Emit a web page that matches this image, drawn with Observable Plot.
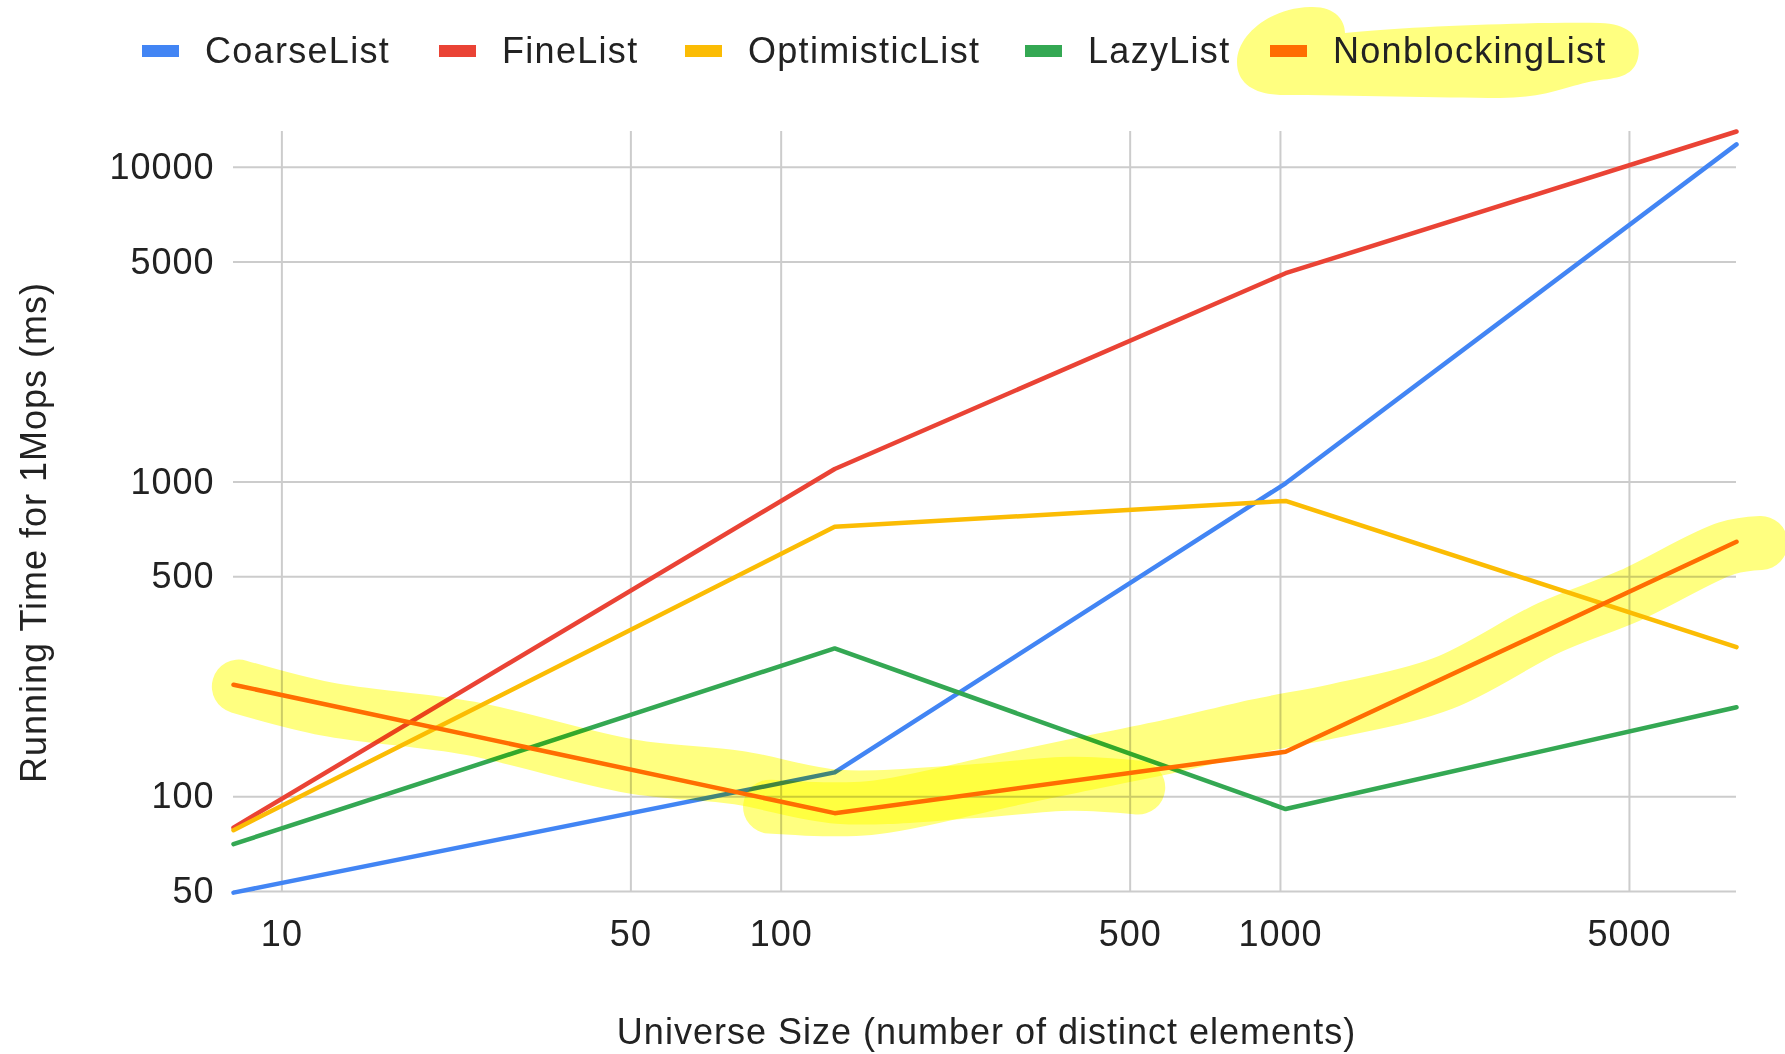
<!DOCTYPE html>
<html>
<head>
<meta charset="utf-8">
<script src="https://cdn.jsdelivr.net/npm/d3@7"></script>
<script src="https://cdn.jsdelivr.net/npm/@observablehq/plot@0.6"></script>
<style>
  body { margin: 0; background: #fff; font-family: "Liberation Sans", Arial, sans-serif; }
  #wrap { width: 1785px; position: relative; }
  #legend { position: relative; height: 100px; width: 1785px; }
  #legend svg.blob { position: absolute; left: 0; top: 0; }
  .item { position: absolute; top: 30px; height: 42px; display: flex; align-items: center;
          font-size: 36px; letter-spacing: 1.3px; color: #222; white-space: nowrap; }
  .sw { width: 37px; height: 12px; margin-right: 26px; }
</style>
</head>
<body>
<div id="wrap">
  <div id="legend"></div>
  <div id="chart"></div>
</div>
<script>
// ---- data ----
const seriesNames = ["CoarseList", "FineList", "OptimisticList", "LazyList", "NonblockingList"];
const seriesColors = ["#4285F4", "#EA4335", "#FBBC04", "#34A853", "#FF6D01"];
const universeSizes = [8, 128, 1024, 8192];
const coarseList = [49.6, 119.5, 991, 11830];
const fineList = [79.8, 1100, 4610, 13000];
const optimisticList = [78.3, 721, 871, 299];
const lazyList = [70.7, 296, 91.4, 192.5];
const nonblockingList = [227, 88.7, 139, 646];

const xTicks = [10, 50, 100, 500, 1000, 5000];
const yTicks = [50, 100, 500, 1000, 5000, 10000];
const xTitle = "Universe Size (number of distinct elements)";
const yTitle = "Running Time for 1Mops (ms)";

// hand-drawn highlighter strokes (approximate, in data units)
const highlight1X = [8.2, 12.3, 23.8, 50, 82, 130, 240, 380, 519];
const highlight1Y = [224, 190, 165, 125, 115, 100, 104, 110, 107];
const highlight2X = [95, 150, 275, 383, 605, 899, 1295, 2113, 3460, 5023, 7834, 9163];
const highlight2Y = [93, 92, 112, 125, 145, 168, 188, 229, 345, 437, 616, 640];

// ---- build tables ----
const seriesValues = [coarseList, fineList, optimisticList, lazyList, nonblockingList];
const rows = [];
seriesNames.forEach((name, i) => {
  universeSizes.forEach((s, j) => rows.push({series: name, size: s, time: seriesValues[i][j]}));
});
const hl1 = highlight1X.map((x, i) => ({x, y: highlight1Y[i]}));
const hl2 = highlight2X.map((x, i) => ({x, y: highlight2Y[i]}));

// ---- legend ----
const legend = document.getElementById("legend");
const ns = "http://www.w3.org/2000/svg";
const blob = document.createElementNS(ns, "svg");
blob.setAttribute("class", "blob");
blob.setAttribute("width", "1785");
blob.setAttribute("height", "100");
const blobPath = document.createElementNS(ns, "path");
blobPath.setAttribute("d", "M1237,62 C1237,35 1270,8 1310,7 C1335,6 1345,20 1345,33 C1400,27 1520,22 1600,23 C1632,24 1642,40 1638,58 C1634,75 1620,78 1600,80 C1570,84 1550,98 1500,98 C1440,98 1350,95 1280,95 C1255,94 1237,84 1237,62 Z");
blobPath.setAttribute("fill", "#ffff80");
blob.appendChild(blobPath);
legend.appendChild(blob);
const legendLefts = [142, 439, 685, 1025, 1270];
seriesNames.forEach((name, i) => {
  const it = document.createElement("div");
  it.className = "item";
  it.style.left = legendLefts[i] + "px";
  const sw = document.createElement("div");
  sw.className = "sw";
  sw.style.background = seriesColors[i];
  const tx = document.createElement("span");
  tx.textContent = name;
  it.appendChild(sw);
  it.appendChild(tx);
  legend.appendChild(it);
});

// ---- chart ----
const hlOpts = {x: "x", y: "y", stroke: "#ffff80", strokeWidth: 54, curve: "catmull-rom",
                strokeLinecap: "round", strokeLinejoin: "round", mixBlendMode: "multiply"};
const chart = Plot.plot({
  width: 1785,
  height: 954,
  marginTop: 31,
  marginBottom: 163,
  marginLeft: 233,
  marginRight: 49,
  style: {fontFamily: '"Liberation Sans", Arial, sans-serif', fontSize: "36px", color: "#222",
          letterSpacing: "1px", background: "#fff", overflow: "visible"},
  x: {type: "log", domain: [8, 8192]},
  y: {type: "log", domain: [50, 13000]},
  color: {domain: seriesNames, range: seriesColors},
  marks: [
    Plot.ruleX(xTicks, {x: d => d, stroke: "#cccccc", strokeWidth: 2}),
    Plot.ruleY(yTicks, {y: d => d, stroke: "#cccccc", strokeWidth: 2}),
    Plot.axisX(xTicks, {tickSize: 0, tickPadding: 29, tickFormat: d => String(d), label: null}),
    Plot.axisY(yTicks, {tickSize: 0, tickPadding: 19, tickFormat: d => String(d), label: null}),
    Plot.line(rows, {x: "size", y: "time", z: "series", stroke: "series", strokeWidth: 4.5}),
    Plot.line(hl1, hlOpts),
    Plot.line(hl2, hlOpts),
    Plot.text([xTitle], {frameAnchor: "bottom", dy: 141, dx: 1.5, text: d => d, lineAnchor: "middle", textAnchor: "middle"}),
    Plot.text([yTitle], {frameAnchor: "left", dx: -199, dy: 21, rotate: -90, text: d => d, lineAnchor: "middle", textAnchor: "middle"})
  ]
});
document.getElementById("chart").appendChild(chart);
</script>
</body>
</html>
